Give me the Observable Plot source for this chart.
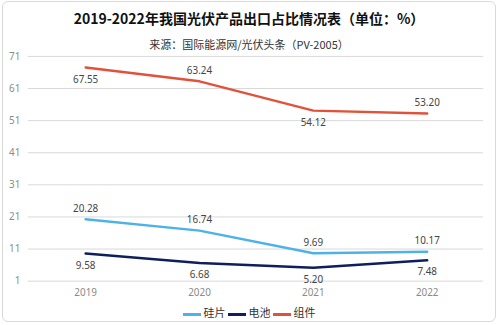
<!DOCTYPE html>
<html><head><meta charset="utf-8">
<script src="https://cdn.jsdelivr.net/npm/d3@7"></script>
<script src="https://cdn.jsdelivr.net/npm/@observablehq/plot@0.6"></script>
<style>
html,body{margin:0;padding:0;background:#fff;}
#wrap{position:relative;width:494px;height:321px;margin:1px 2px;border:1px solid #d9d9d9;border-radius:6px;box-sizing:border-box;font-family:"Noto Sans CJK SC","Noto Sans",sans-serif;overflow:hidden;}
#title{position:absolute;left:0;top:5px;width:100%;text-align:center;font-size:14px;font-weight:bold;color:#111;line-height:22px;}
#sub{position:absolute;left:0;top:34px;width:100%;text-align:center;font-size:11px;color:#333;line-height:16px;}
#chart{position:absolute;left:-3px;top:47px;}
#legend{position:absolute;left:0;top:303px;width:100%;text-align:center;font-size:11px;color:#333;line-height:14px;}
.sw{display:inline-block;width:18px;height:3px;vertical-align:middle;margin-right:3px;}
.it{display:inline-block;margin:0 1px;}
</style></head>
<body><div id="wrap">
<div id="title">2019-2022年我国光伏产品出口占比情况表（单位：%）</div>
<div id="sub">来源：国际能源网/光伏头条（PV-2005）</div>
<div id="chart"></div>
<div id="legend"></div>
</div>
<script>
const years = ["2019","2020","2021","2022"];
const seriesNames = ["硅片","电池","组件"];
const wafer = [20.28, 16.74, 9.69, 10.17];
const cell = [9.58, 6.68, 5.20, 7.48];
const module = [67.55, 63.24, 54.12, 53.20];
const yTicks = [1, 11, 21, 31, 41, 51, 61, 71];
const colors = ["#4db3e6", "#0f1f5c", "#e2523a"];
// label placement: 1 above, -1 below
const labelPos = {
  "硅片": [1,1,1,1],
  "电池": [-1,-1,-1,-1],
  "组件": [-1,1,-1,1]
};

const vals = [wafer, cell, module];
const data = [];
seriesNames.forEach((s, si) => years.forEach((y, i) => data.push({series: s, year: y, value: vals[si][i], pos: labelPos[s][i]})));

const chart = Plot.plot({
  width: 500,
  height: 256,
  marginTop: 7,
  marginLeft: 28,
  marginRight: 12,
  marginBottom: 22,
  style: {fontFamily: "'Noto Sans', sans-serif", fontSize: "10px", background: "transparent"},
  x: {type: "point", domain: years, padding: 0.5, label: null},
  y: {domain: [1, 71], ticks: yTicks, label: null},
  color: {domain: seriesNames, range: colors},
  marks: [
    Plot.gridY(yTicks, {stroke: "#d9d9d9", strokeOpacity: 1, strokeWidth: 1}),
    Plot.axisY(yTicks, {tickSize: 0, tickPadding: 8, fill: "#8a8a8a", label: null}),
    Plot.axisX({tickSize: 0, tickPadding: 8, fill: "#8a8a8a", label: null}),
    Plot.line(data, {x: "year", y: "value", z: "series", stroke: "series", strokeWidth: 2.5}),
    Plot.text(data.filter(d => d.pos > 0), {x: "year", y: "value", text: d => d.value.toFixed(2), dy: -11, fill: "#444", fontSize: 10}),
    Plot.text(data.filter(d => d.pos < 0), {x: "year", y: "value", text: d => d.value.toFixed(2), dy: 12, fill: "#444", fontSize: 10})
  ]
});
document.getElementById("chart").appendChild(chart);

const leg = document.getElementById("legend");
seriesNames.forEach((s, i) => {
  const span = document.createElement("span");
  span.className = "it";
  span.innerHTML = `<span class="sw" style="background:${colors[i]}"></span>${s}`;
  leg.appendChild(span);
});
</script>
</body></html>
